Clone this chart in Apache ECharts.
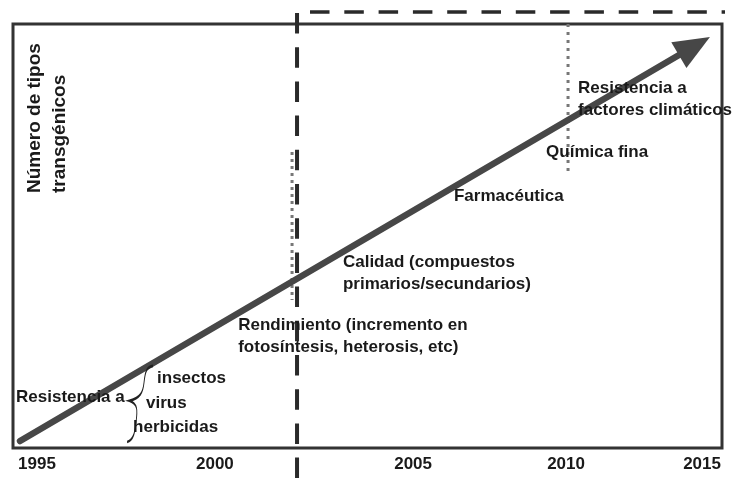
<!DOCTYPE html>
<html>
<head>
<meta charset="utf-8">
<script src="https://cdn.jsdelivr.net/npm/echarts@6/dist/echarts.min.js"></script>
<style>
  html, body { margin: 0; padding: 0; background: #fff; }
  #main { width: 732px; height: 481px; }
</style>
</head>
<body>
<div id="main"></div>
<script>
// tick labels and where they sit on the (hand drawn) time axis
const tickYears = ['1995', '2000', '2005', '2010', '2015'];
const tickPos = [1995, 2000.35, 2006.31, 2010.91, 2015];

// the growth arrow: start and end of the shaft [year, number of types]
const arrowPoints = [[1994.49, 1.65], [2014.77, 94.8]];

// application labels along the arrow [year, level, text]
const stageLabels = [
    [1994.37, 12.0, 'Resistencia a'],
    [1998.61, 16.5, 'insectos'],
    [1998.28, 10.6, 'virus'],
    [1997.89, 4.95, 'herbicidas'],
    [2001.05, 26.4, 'Rendimiento (incremento en\nfotosíntesis, heterosis, etc)'],
    [2004.20, 41.2, 'Calidad (compuestos\nprimarios/secundarios)'],
    [2007.54, 59.4, 'Farmacéutica'],
    [2010.31, 69.8, 'Química fina'],
    [2011.27, 82.3, 'Resistencia a\nfactores climáticos']
];

// brace grouping the three resistance types
const bracePoint = [1998.1, 10.4];

// reference lines
const nowLine = [[2002.82, 102.59], [2002.82, -7.78]];
const futureLine = [[2003.21, 102.83], [2015.9, 102.83]];
const dotLine2002 = [[2002.67, 69.8], [2002.67, 34.9]];
const dotLine2010 = [[2010.97, 100], [2010.97, 64.9]];

const chart = echarts.init(document.getElementById('main'));

const font = '"Liberation Sans", Arial, sans-serif';

function refLine(data, type, width, color) {
    return {
        type: 'line',
        data: data,
        symbol: 'none',
        clip: false,
        silent: true,
        lineStyle: { type: type, width: width, color: color, cap: 'butt' },
        z: 1
    };
}

chart.setOption({
    animation: false,
    grid: {
        left: 13, top: 24, right: 10, bottom: 33,
        show: true, borderColor: '#333', borderWidth: 3, backgroundColor: '#fff'
    },
    xAxis: {
        type: 'value',
        min: 1994.278,
        max: 2015.6,
        axisLine: { show: false },
        axisTick: { show: false },
        splitLine: { show: false },
        axisLabel: {
            customValues: tickPos,
            formatter: v => tickYears[tickPos.indexOf(v)],
            margin: 8,
            color: '#1a1a1a',
            fontSize: 17,
            fontWeight: 'bold',
            fontFamily: font
        }
    },
    yAxis: { type: 'value', min: 0, max: 100, show: false },
    graphic: [
        {
            type: 'text', x: 35, y: 193, rotation: Math.PI / 2,
            style: { text: 'Número de tipos', fill: '#1a1a1a', font: 'bold 19px ' + font, align: 'left', verticalAlign: 'middle' }
        },
        {
            type: 'text', x: 60, y: 193, rotation: Math.PI / 2,
            style: { text: 'transgénicos', fill: '#1a1a1a', font: 'bold 19px ' + font, align: 'left', verticalAlign: 'middle' }
        }
    ],
    series: [
        refLine(nowLine, [20.5, 13.7], 4, '#2a2a2a'),
        refLine(futureLine, [19.5, 14.8], 3.5, '#2a2a2a'),
        refLine(dotLine2002, [3, 4], 3, '#777'),
        refLine(dotLine2010, [3, 5], 3, '#777'),
        {
            type: 'line',
            symbol: 'none',
            silent: true,
            clip: false,
            data: [
                { value: arrowPoints[0], symbol: 'none' },
                { value: arrowPoints[1], symbol: 'triangle', symbolSize: [30, 36], symbolRotate: -59.65 }
            ],
            lineStyle: { width: 6.5, color: '#474747', cap: 'round' },
            itemStyle: { color: '#474747' },
            z: 3
        },
        {
            type: 'scatter',
            silent: true,
            data: [bracePoint],
            symbol: 'path://M24,0 C18,1 17,6 16,16 C15,26 13,31 3,34 C11,37 10,44 9,54 C8,64 7,72 1,74',
            symbolSize: [26, 76],
            symbolKeepAspect: false,
            itemStyle: { color: 'none', borderColor: '#222', borderWidth: 1.5, opacity: 1 },
            z: 4
        },
        {
            type: 'scatter',
            silent: true,
            symbolSize: 0,
            data: stageLabels.map(d => ({ value: [d[0], d[1]], name: d[2] })),
            itemStyle: { opacity: 1 },
            label: {
                show: true,
                position: 'right',
                distance: 0,
                formatter: '{b}',
                color: '#1a1a1a',
                fontSize: 17,
                fontWeight: 'bold',
                fontFamily: font,
                lineHeight: 22
            },
            labelLayout: { hideOverlap: false },
            z: 5
        }
    ]
});
</script>
</body>
</html>
